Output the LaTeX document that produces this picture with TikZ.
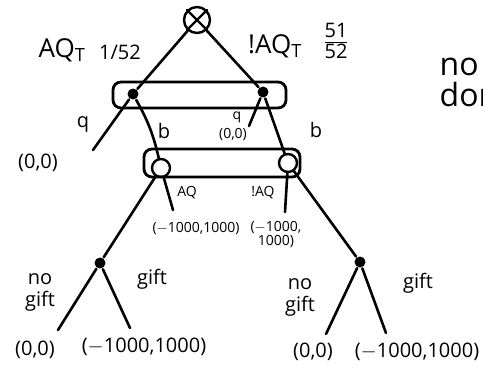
\documentclass[tikz,border=0pt]{standalone}
\usepackage{fontspec}
\setsansfont{Open Sans}
\begin{document}
\begin{tikzpicture}[
	x=1pt, y=-1pt,
	line width=2.6pt, line cap=round,
	every node/.style={ font=\sffamily },
	vertex/.style={ circle, fill, inner sep=0pt, minimum size=11pt },
	vertexo/.style={ circle, draw, line width=2.4pt, inner sep=0pt, minimum width=15pt, minimum height=18pt },
	chance/.style={ circle, draw, line width=2.4pt, inner sep=0pt, minimum size=26pt },
	infoset/.style={ draw, line width=2.8pt, rounded corners=8pt },
	big/.style={ font=\sffamily\fontsize{26}{28}\selectfont },
	mid/.style={ font=\sffamily\fontsize{20}{22}\selectfont },
	small/.style={ font=\sffamily\fontsize{14}{14}\selectfont, inner sep=0pt, align=center }
]
\useasboundingbox (0,0) rectangle (483,373);

% information sets
\draw[infoset] (113,82) rectangle (286,108);
\draw[infoset] (144,149) rectangle (300,177);

\node at (197,20) (root) [chance] {};
\draw[line width=2.4pt] (root.north west) to (root.south east);
\draw[line width=2.4pt] (root.north east) to (root.south west);

\node at (133,94) (aq) [vertex] {};
\node at (263,92) (naq) [vertex] {};
\node at (161,168) (baq) [vertexo] {};
\node at (288,163) (bnaq) [vertexo] {};
\node at (100,263) (gaq) [vertex] {};
\node at (360,262) (gnaq) [vertex] {};

\coordinate (aqq) at (93,150);
\coordinate (naqq) at (249,126);
\coordinate (baqc) at (173,210);
\coordinate (bnaqc) at (285,212);
\coordinate (gaqn) at (58,330);
\coordinate (gaqg) at (130,328);
\coordinate (gnaqn) at (326,334);
\coordinate (gnaqg) at (386,333);

\draw (root) to (aq);
\draw (root) to (naq);
\draw (aq) to (aqq);
\draw (aq) to[bend left=8] (baq);
\draw (naq) to (naqq);
\draw (naq) to (bnaq);
\draw (baq) to (baqc);
\draw (baq) to (gaq);
\draw (bnaq) to (bnaqc);
\draw (bnaq) to (gnaq);
\draw (gaq) to (gaqn);
\draw (gaq) to (gaqg);
\draw (gnaq) to (gnaqn);
\draw (gnaq) to (gnaqg);

% chance labels
\node at (62,50) (laq) [big] {AQ\textsubscript{T}};
\node at (120,52) (paq) [mid] {1/52};
\node at (275,46) (lnaq) [big] {!AQ\textsubscript{T}};
\node at (336,44) (pnaq) [font=\sffamily\fontsize{20}{20}\selectfont, inner sep=0pt] {\setlength{\arrayrulewidth}{1.8pt}\begin{tabular}{@{}c@{}}51\\[-2pt]\hline\noalign{\vskip1pt}52\end{tabular}};
\node at (435,82) (note) [anchor=west, align=left, font=\sffamily\fontsize{32}{31}\selectfont] {no\\don};

% top moves
\node at (83,124) (laqq) [mid] {q};
\node at (38,163) (vaqq) [mid] {(0,0)};
\node at (164,131) (laqb) [mid] {b};
\node at (237,117) (lnaqq) [small] {q};
\node at (233,135) (vnaqq) [small] {(0,0)};
\node at (316,130) (lnaqb) [mid] {b};

% bottom information set moves
\node at (187,193) (lbaq) [small] {AQ};
\node at (196,229) (vbaq) [small] {($-$1000,1000)};
\node at (263,193) (lbnaq) [small] {!AQ};
\node at (276,235) (vbnaq) [small] {($-$1000,\\1000)};

% gift moves
\node at (40,292) (lgaqn) [mid, align=center, inner sep=0pt] {no\\gift};
\node at (152,279) (lgaqg) [mid] {gift};
\node at (300,297) (lgnaqn) [mid, align=center, inner sep=0pt] {no\\gift};
\node at (418,283) (lgnaqg) [mid] {gift};
\node at (35,350) (vgaqn) [mid] {(0,0)};
\node at (144,347) (vgaqg) [mid] {($-$1000,1000)};
\node at (313,352) (vgnaqn) [mid] {(0,0)};
\node at (417,352) (vgnaqg) [mid] {($-$1000,1000)};

\end{tikzpicture}
\end{document}
